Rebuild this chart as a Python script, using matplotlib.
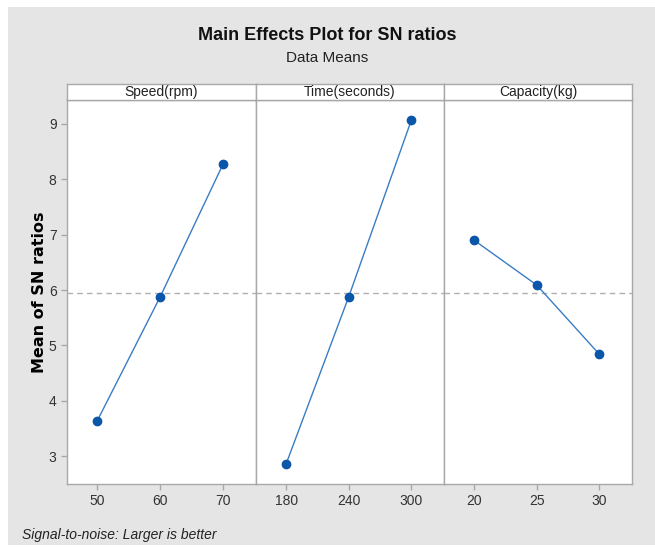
import matplotlib
matplotlib.use("Agg")
import matplotlib.pyplot as plt
from matplotlib.patches import Rectangle

# data
factors = ["Speed(rpm)", "Time(seconds)", "Capacity(kg)"]
levels = [["50", "60", "70"], ["180", "240", "300"], ["20", "25", "30"]]
speed_sn = [3.64, 5.88, 8.28]
time_sn = [2.86, 5.88, 9.07]
capacity_sn = [6.90, 6.09, 4.84]
grand_mean = 5.94
yticks = [3, 4, 5, 6, 7, 8, 9]

plt.rcParams["font.family"] = ["Liberation Sans", "DejaVu Sans"]

W, H = 655, 547
fig = plt.figure(figsize=(W / 100, H / 100), dpi=100, facecolor="white")

# gray background panel
fig.patches.append(Rectangle((8 / W, 2 / H), 647 / W, 538 / H, transform=fig.transFigure,
                             facecolor="#e5e5e5", edgecolor="none", zorder=-10))

fig.text(0.5, 1 - 36 / H, "Main Effects Plot for SN ratios", ha="center", va="center",
         fontsize=13, fontweight="bold", color="#111111")
fig.text(0.5, 1 - 58 / H, "Data Means", ha="center", va="center", fontsize=11, color="#222222")

edges = [67, 256, 444, 632]
bottom, top = 484, 100
strip_top = 84
series = [speed_sn, time_sn, capacity_sn]
gray = "#a8a8a8"

for i, (name, labs, vals) in enumerate(zip(factors, levels, series)):
    x0, x1 = edges[i], edges[i + 1]
    ax = fig.add_axes([x0 / W, (H - bottom) / H, (x1 - x0) / W, (bottom - top) / H])
    ax.set_facecolor("white")
    xs = [1, 2, 3]
    ax.axhline(grand_mean, color="#b0b0b0", linestyle=(0, (4, 3)), linewidth=1, zorder=1)
    ax.plot(xs, vals, color="#3a7cc4", linewidth=1, zorder=2)
    ax.plot(xs, vals, linestyle="none", marker="o", markersize=6, color="#0a56a8", zorder=3)
    ax.set_xlim(0.52, 3.52)
    ax.set_ylim(2.5, 9.43)
    ax.set_xticks(xs)
    ax.set_xticklabels(labs, fontsize=10, color="#333333")
    ax.tick_params(axis="both", colors=gray, labelcolor="#333333", length=4, width=1)
    if i == 0:
        ax.set_yticks(yticks)
        ax.set_yticklabels([str(t) for t in yticks], fontsize=10, color="#333333")
        ax.set_ylabel("Mean of SN ratios", fontsize=11.5, fontweight="bold",
                      family="DejaVu Sans", labelpad=1)
    else:
        ax.set_yticks([])
    for sp in ax.spines.values():
        sp.set_color(gray)
        sp.set_linewidth(1)

    # strip header
    sax = fig.add_axes([x0 / W, (H - top) / H, (x1 - x0) / W, (top - strip_top) / H])
    sax.set_facecolor("white")
    sax.set_xticks([])
    sax.set_yticks([])
    for sp in sax.spines.values():
        sp.set_color(gray)
        sp.set_linewidth(1)
    sax.text(0.5, 0.5, name, ha="center", va="center", fontsize=10,
             color="#222222", transform=sax.transAxes)

fig.text(22 / W, 1 - 535 / H, "Signal-to-noise: Larger is better", ha="left", va="center",
         fontsize=10, style="italic", color="#222222")

fig.savefig("out.png", dpi=100, facecolor=fig.get_facecolor())
